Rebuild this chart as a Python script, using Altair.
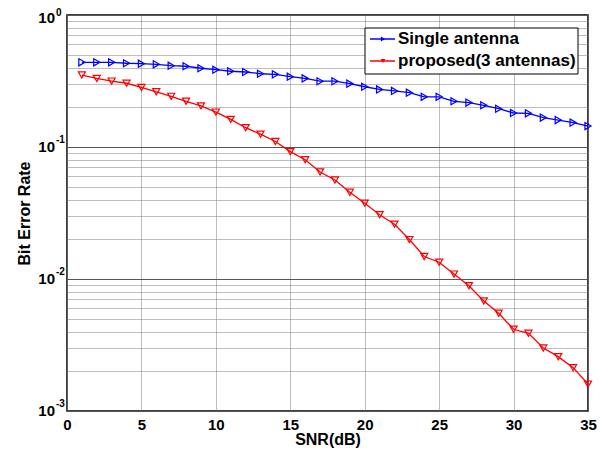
import altair as alt
import pandas as pd

snr = list(range(1, 36))
single = [0.438, 0.438, 0.438, 0.431, 0.428, 0.423, 0.413, 0.409, 0.395, 0.385,
          0.375, 0.370, 0.359, 0.355, 0.341, 0.331, 0.315, 0.315, 0.302, 0.286,
          0.273, 0.266, 0.258, 0.240, 0.240, 0.222, 0.217, 0.207, 0.195, 0.181,
          0.180, 0.167, 0.160, 0.153, 0.144]
proposed = [0.351, 0.331, 0.316, 0.304, 0.283, 0.262, 0.242, 0.222, 0.205, 0.184,
            0.162, 0.140, 0.125, 0.110, 0.0922, 0.0801, 0.0647, 0.0562, 0.0454, 0.0375,
            0.0307, 0.0260, 0.0199, 0.0148, 0.0134, 0.0109, 0.00890, 0.00681, 0.00550, 0.00416,
            0.00388, 0.00300, 0.00258, 0.00213, 0.00160]
series_names = ["Single antenna", "proposed(3 antennas)"]
series_colors = ["#0000ff", "#ff0000"]
series_shapes = ["triangle-right", "triangle-down"]
x_ticks = [0, 5, 10, 15, 20, 25, 30, 35]
decades = [1.0, 0.1, 0.01, 0.001]
exponents = ["0", "-1", "-2", "-3"]
minor_vals = [m * d for d in [0.001, 0.01, 0.1] for m in range(1, 10)] + [1.0]

FONT = "Liberation Sans"

df = pd.DataFrame({
    "snr": snr * 2,
    "ber": single + proposed,
    "series": [series_names[0]] * len(snr) + [series_names[1]] * len(snr),
})
dec_df = pd.DataFrame({"val": decades, "exp": exponents, "base": ["10"] * len(decades)})
leg_df = pd.DataFrame({"series": series_names})

xscale = alt.Scale(domain=[0, 35], nice=False)
yscale = alt.Scale(type="log", domain=[0.001, 1], nice=False)
cscale = alt.Scale(domain=series_names, range=series_colors)
sscale = alt.Scale(domain=series_names, range=series_shapes)

decade_test = "abs(log(datum.value)/LN10 - round(log(datum.value)/LN10)) < 0.001"

x_enc = alt.X("snr:Q", scale=xscale, axis=alt.Axis(
    values=x_ticks, title="SNR(dB)", ticks=False, labelPadding=6,
    labelFont=FONT, labelFontSize=15, labelFontWeight="bold", labelColor="black",
    titleFont=FONT, titleFontSize=16, titleFontWeight="bold", titleColor="black",
    titleY=28, titleBaseline="middle",
    grid=True, gridColor="#7a7a7a", gridDash=[1, 1], gridOpacity=1,
    domain=False, labelFlush=False))
y_enc = alt.Y("ber:Q", scale=yscale, axis=alt.Axis(
    values=minor_vals, labels=False, ticks=False, title="Bit Error Rate",
    titleFont=FONT, titleFontSize=16, titleFontWeight="bold", titleColor="black",
    titleX=-43, titleY=198, titleBaseline="middle",
    grid=True, gridOpacity=1,
    gridColor={"condition": {"test": decade_test, "value": "#555555"}, "value": "#7a7a7a"},
    gridDash={"condition": {"test": decade_test, "value": []}, "value": [1, 1]},
    domain=False))

lines = alt.Chart(df).mark_line(strokeWidth=1.3).encode(
    x=x_enc, y=y_enc,
    color=alt.Color("series:N", scale=cscale, legend=None),
    detail="series:N",
)
points = alt.Chart(df).mark_point(filled=False, size=50, strokeWidth=1.2, opacity=1).encode(
    x=alt.X("snr:Q", scale=xscale),
    y=alt.Y("ber:Q", scale=yscale),
    color=alt.Color("series:N", scale=cscale, legend=None),
    shape=alt.Shape("series:N", scale=sscale, legend=None),
)

low = alt.Chart(dec_df).transform_filter(alt.datum.val < 0.5)
top = alt.Chart(dec_df).transform_filter(alt.datum.val > 0.5)
base_style = dict(align="right", baseline="middle", font=FONT, fontSize=15,
                  fontWeight="bold", color="black")
exp_style = dict(align="left", baseline="middle", font=FONT, fontSize=10,
                 fontWeight="bold", color="black")
ylab_base = low.mark_text(**base_style).encode(
    y=alt.Y("val:Q", scale=yscale), x=alt.value(-12), text="base:N")
ylab_exp = low.mark_text(dy=-7, **exp_style).encode(
    y=alt.Y("val:Q", scale=yscale), x=alt.value(-11), text="exp:N")
ylab_base_top = top.mark_text(dy=3, **base_style).encode(
    y=alt.Y("val:Q", scale=yscale), x=alt.value(-12), text="base:N")
ylab_exp_top = top.mark_text(dy=-2, **exp_style).encode(
    y=alt.Y("val:Q", scale=yscale), x=alt.value(-11), text="exp:N")

# manual legend (MATLAB style: line sample with marker)
leg_box = alt.Chart(pd.DataFrame({"a": [0]})).mark_rect(
    fill="white", stroke="black", strokeWidth=1
).encode(x=alt.value(298), x2=alt.value(511), y=alt.value(13), y2=alt.value(59))

leg_layers = [leg_box]
for name, ypos in zip(series_names, [24, 46]):
    base = alt.Chart(leg_df).transform_filter(alt.datum.series == name)
    leg_layers.append(base.mark_rule(strokeWidth=1.5).encode(
        x=alt.value(303), x2=alt.value(328), y=alt.value(ypos),
        color=alt.Color("series:N", scale=cscale, legend=None)))
    leg_layers.append(base.mark_point(filled=True, size=24, opacity=1).encode(
        x=alt.value(316), y=alt.value(ypos),
        color=alt.Color("series:N", scale=cscale, legend=None),
        shape=alt.Shape("series:N", scale=sscale, legend=None)))
    leg_layers.append(base.mark_text(
        align="left", baseline="middle", font=FONT, fontSize=17, fontWeight="bold", color="black"
    ).encode(x=alt.value(331), y=alt.value(ypos), text="series:N"))

chart = alt.layer(
    lines, points, ylab_base, ylab_exp, ylab_base_top, ylab_exp_top, *leg_layers
).properties(
    width=521, height=396,
    autosize=alt.AutoSizeParams(type="none"),
    padding={"left": 59, "top": 7, "right": 10, "bottom": 40},
    background="white",
).configure_view(stroke="black", strokeWidth=1.5)

chart.save("out.html", embed_options={"renderer": "svg", "actions": False})
